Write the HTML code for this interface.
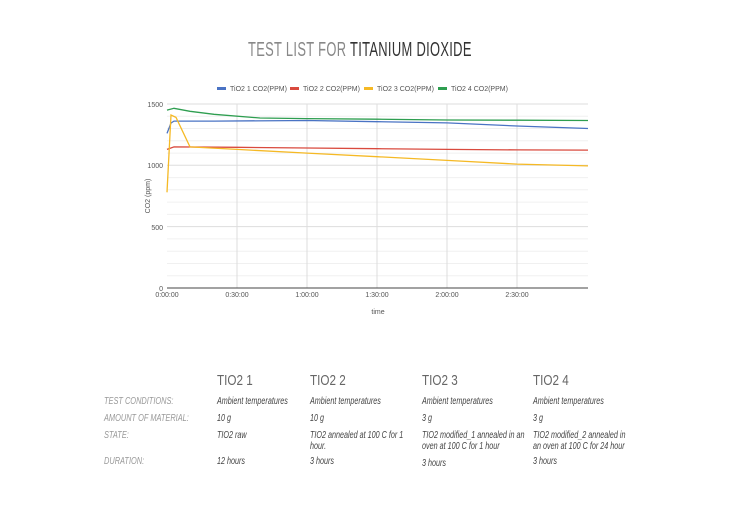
<!DOCTYPE html>
<html><head><meta charset="utf-8"><style>
body{margin:0;background:#fff;width:730px;height:516px;overflow:hidden;font-family:"Liberation Sans",sans-serif;position:relative}
.t{position:absolute;white-space:nowrap}
.h{font-size:15px;color:#666;font-weight:300;transform:scaleX(.78);transform-origin:left}
.l{font-size:10px;color:#999;font-style:italic;transform:scaleX(.74);transform-origin:left}
.v{font-size:10px;color:#444;font-style:italic;transform:scaleX(.72);transform-origin:left;line-height:11px}
</style></head><body>
<div class="t" style="left:248px;top:39px;font-size:20px;color:#888;transform:scaleX(.645);transform-origin:left;letter-spacing:0.5px">TEST LIST FOR <span style="color:#333">TITANIUM DIOXIDE</span></div>
<svg width="730" height="330" style="position:absolute;left:0;top:0" font-family="Liberation Sans, sans-serif">
<g stroke="#f0f0f0" stroke-width="1">
<line x1="167" x2="588" y1="275.7" y2="275.7"/><line x1="167" x2="588" y1="263.5" y2="263.5"/><line x1="167" x2="588" y1="251.2" y2="251.2"/><line x1="167" x2="588" y1="238.9" y2="238.9"/>
<line x1="167" x2="588" y1="214.4" y2="214.4"/><line x1="167" x2="588" y1="202.1" y2="202.1"/><line x1="167" x2="588" y1="189.8" y2="189.8"/><line x1="167" x2="588" y1="177.6" y2="177.6"/>
<line x1="167" x2="588" y1="153.1" y2="153.1"/><line x1="167" x2="588" y1="140.8" y2="140.8"/><line x1="167" x2="588" y1="128.5" y2="128.5"/><line x1="167" x2="588" y1="116.3" y2="116.3"/>
</g>
<g stroke="#ddd" stroke-width="1">
<line x1="167" x2="588" y1="104" y2="104"/><line x1="167" x2="588" y1="165.3" y2="165.3"/><line x1="167" x2="588" y1="226.6" y2="226.6"/>
<line x1="237" x2="237" y1="104" y2="288"/><line x1="307" x2="307" y1="104" y2="288"/><line x1="377" x2="377" y1="104" y2="288"/><line x1="447" x2="447" y1="104" y2="288"/><line x1="517" x2="517" y1="104" y2="288"/>
</g>
<line x1="167" x2="588" y1="288" y2="288" stroke="#444"/>
<g font-size="7" fill="#555" text-anchor="end"><text x="163" y="107">1500</text><text x="163" y="168">1000</text><text x="163" y="230">500</text><text x="163" y="291">0</text></g>
<g font-size="7" fill="#555" text-anchor="middle"><text x="167" y="297">0:00:00</text><text x="237" y="297">0:30:00</text><text x="307" y="297">1:00:00</text><text x="377" y="297">1:30:00</text><text x="447" y="297">2:00:00</text><text x="517" y="297">2:30:00</text>
<text x="378" y="314">time</text><text transform="translate(150,196) rotate(-90)">CO2 (ppm)</text></g>
<g font-size="7" fill="#555">
<rect x="217" y="87" width="9" height="3" fill="#4a73c4"/><text x="230" y="91">TiO2 1 CO2(PPM)</text>
<rect x="290" y="87" width="9" height="3" fill="#d94a3e"/><text x="303" y="91">TiO2 2 CO2(PPM)</text>
<rect x="364" y="87" width="9" height="3" fill="#f5b925"/><text x="377" y="91">TiO2 3 CO2(PPM)</text>
<rect x="438" y="87" width="9" height="3" fill="#2e9e50"/><text x="451" y="91">TiO2 4 CO2(PPM)</text></g>
<g fill="none" stroke-width="1.3">
<polyline stroke="#2e9e50" points="167,110.1 174,108.3 190,111.3 214,114.3 260,118.0 307,118.6 377,119.2 447,120.0 517,120.2 588,120.5"/>
<polyline stroke="#4a73c4" points="167,133.4 171,123 174,121.1 214,121.1 307,120.5 377,121.7 447,122.9 517,126.0 588,128.5"/>
<polyline stroke="#d94a3e" points="167,149.4 174,146.9 237,147.3 307,148.0 377,148.7 447,149.4 517,149.9 588,150.1"/>
<polyline stroke="#f5b925" points="167,192.3 171,115 176,117.4 190,146.9 237,149.4 307,153.1 377,156.7 447,160.4 517,164.1 588,165.9"/>
</g>
</svg>
<div class="t h" style="left:217px;top:372px">TIO2 1</div>
<div class="t h" style="left:310px;top:372px">TIO2 2</div>
<div class="t h" style="left:422px;top:372px">TIO2 3</div>
<div class="t h" style="left:533px;top:372px">TIO2 4</div>
<div class="t l" style="left:104px;top:396px">TEST CONDITIONS:</div>
<div class="t l" style="left:104px;top:413px">AMOUNT OF MATERIAL:</div>
<div class="t l" style="left:104px;top:430px">STATE:</div>
<div class="t l" style="left:104px;top:456px">DURATION:</div>
<div class="t v" style="left:217px;top:396px">Ambient temperatures</div>
<div class="t v" style="left:310px;top:396px">Ambient temperatures</div>
<div class="t v" style="left:422px;top:396px">Ambient temperatures</div>
<div class="t v" style="left:533px;top:396px">Ambient temperatures</div>
<div class="t v" style="left:217px;top:413px">10 g</div>
<div class="t v" style="left:310px;top:413px">10 g</div>
<div class="t v" style="left:422px;top:413px">3 g</div>
<div class="t v" style="left:533px;top:413px">3 g</div>
<div class="t v" style="left:217px;top:430px">TIO2 raw</div>
<div class="t v" style="left:310px;top:430px">TIO2 annealed at 100 C for 1<br>hour.</div>
<div class="t v" style="left:422px;top:430px">TIO2 modified_1 annealed in an<br>oven at 100 C for 1 hour</div>
<div class="t v" style="left:533px;top:430px">TIO2 modified_2 annealed in<br>an oven at 100 C for 24 hour</div>
<div class="t v" style="left:217px;top:456px">12 hours</div>
<div class="t v" style="left:310px;top:456px">3 hours</div>
<div class="t v" style="left:422px;top:458px">3 hours</div>
<div class="t v" style="left:533px;top:456px">3 hours</div>
</body></html>
